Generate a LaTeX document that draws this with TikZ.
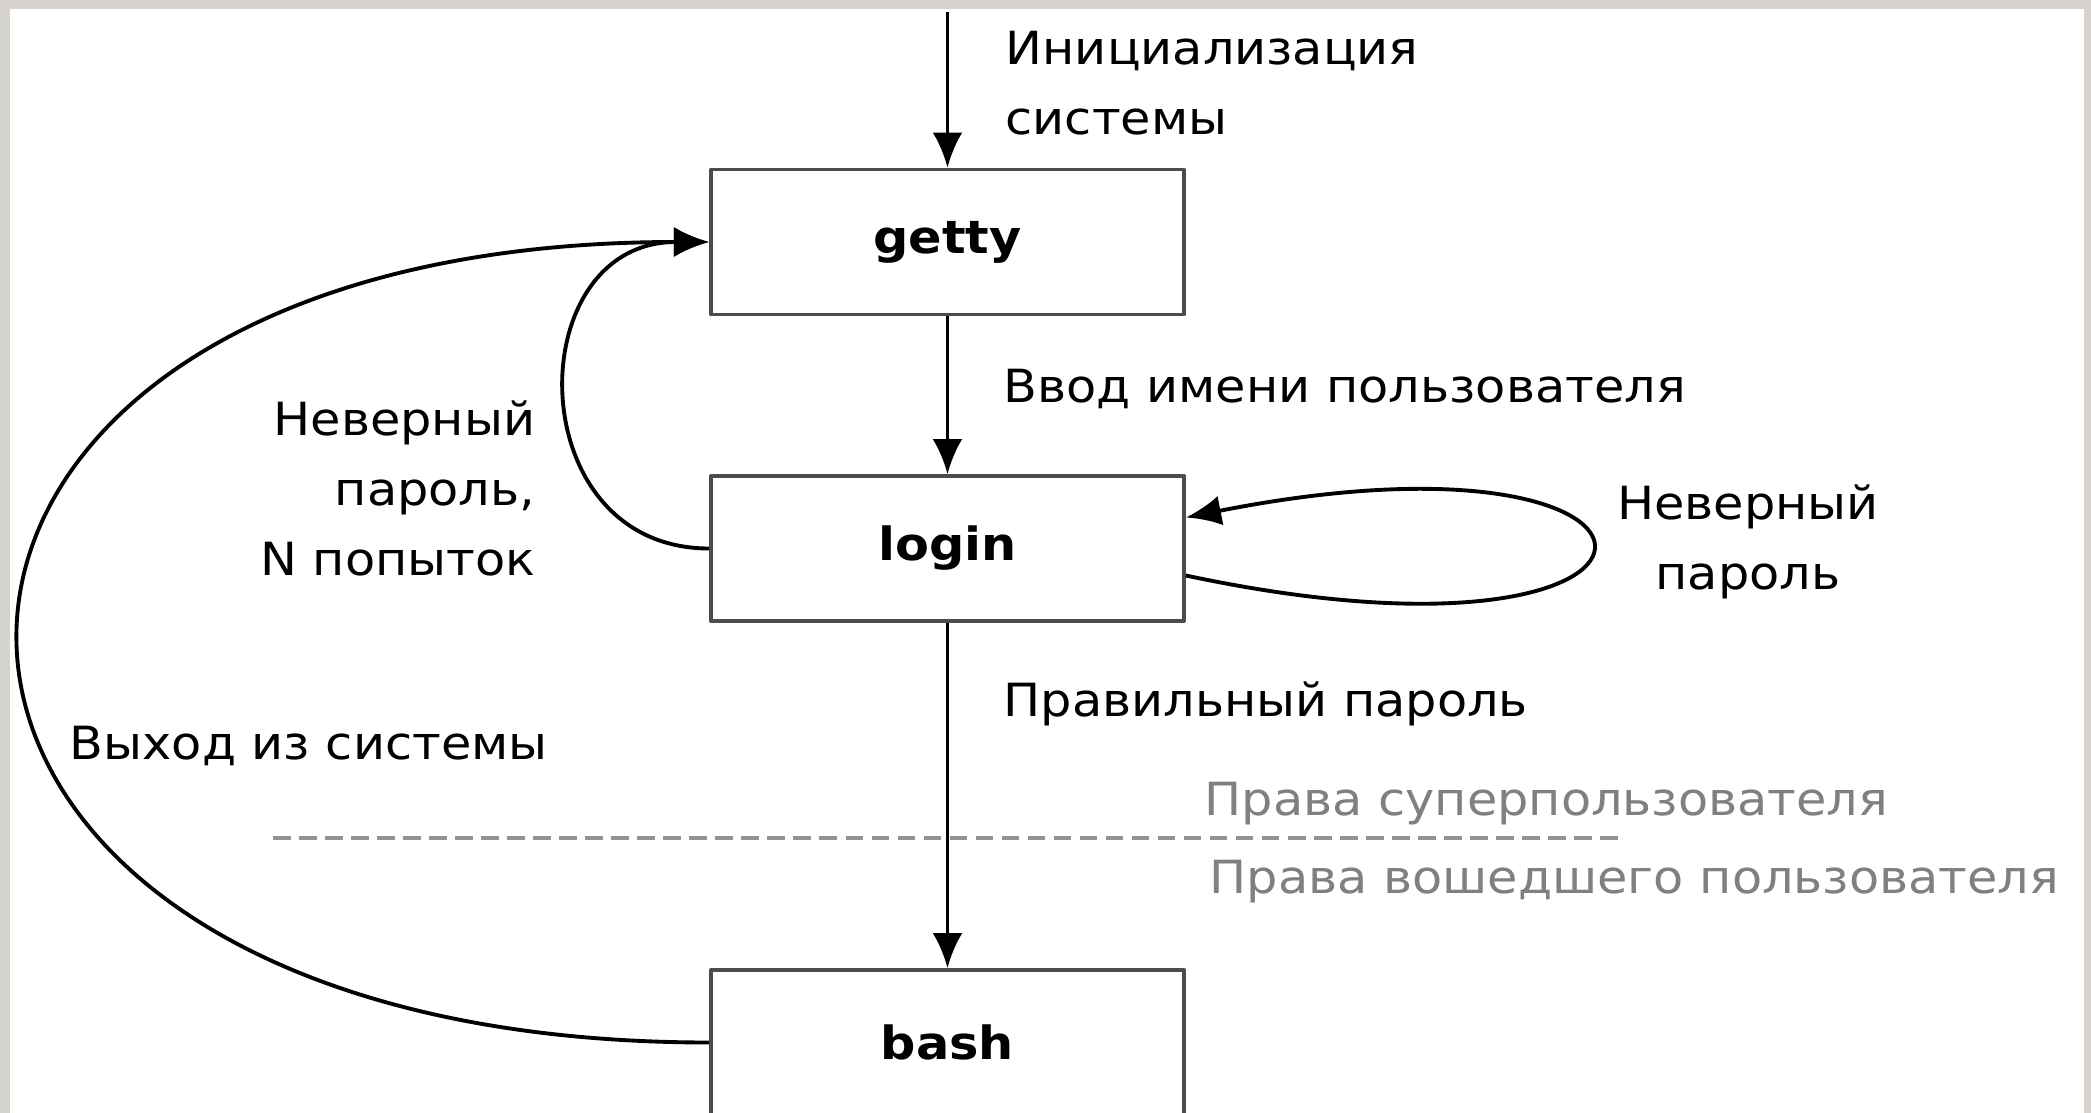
\documentclass[tikz,border=0pt]{standalone}
\usepackage{fontspec}
\setmainfont{DejaVu Sans}[FakeStretch=1.08]
\usetikzlibrary{arrows.meta,positioning,calc}

\definecolor{framegray}{RGB}{214,211,206}
\definecolor{rightsgray}{RGB}{128,128,128}

\begin{document}
\begin{tikzpicture}[
  x=0.01cm,y=-0.01cm,
  line join=round,
  >={Latex[length=10pt,width=8.5pt]},
  proc/.style={draw=black!70,line width=1pt,minimum width=4.73cm,minimum height=1.45cm,inner sep=0pt,font=\bfseries\fontsize{13}{16}\selectfont},
  flow/.style={draw=black,line width=1.1pt,->},
  back/.style={draw=black,line width=1.1pt,->},
  lbl/.style={inner sep=0pt,font=\fontsize{13}{20}\selectfont},
  rights/.style={lbl,text=rightsgray},
  privline/.style={draw=rightsgray!85,line width=1.2pt,dash pattern=on 5pt off 2.4pt}
]

% slide frame
\useasboundingbox (0,0) rectangle (2091,1113);
\fill[framegray] (0,0) rectangle (2091,1113);
\fill[white] (10,9) rectangle (2084,1113);

% processes
\node[proc] (getty) at (947.5,242) {getty};
\node[proc] (login) at (947.5,548.5) {login};
\node[proc] (bash) at (947.5,1042.5) {bash};
\coordinate (init) at (947.5,12);

% privilege boundary
\coordinate (sepL) at (273,838);
\coordinate (sepR) at (1625,838);
\draw[privline] (sepL) -- (sepR);
\node[rights,anchor=base west] (rootlbl) at (1204,815) {Права суперпользователя};
\node[rights,anchor=base west] (userlbl) at (1209,893) {Права вошедшего пользователя};

% main flow
\draw[flow] (init) -- (getty);
\draw[flow] (getty) -- (login);
\draw[flow] (login) -- (bash);

% returns to getty
\draw[back] (login.west) .. controls ($(login.west)+(-190,0)$) and ($(getty.west)+(-190,0)$) .. (getty.west);
\draw[back] (bash.west) .. controls ($(bash.west)+(-918,0)$) and ($(getty.west)+(-918,0)$) .. (getty.west);

% retry on login
\draw[back] ([yshift=-0.27cm]login.east) .. controls ($(login.east)+(540,142)$) and ($(login.east)+(540,-138)$) .. ([yshift=0.31cm]login.east);

% labels (base of a multi-line node is its last line)
\node[lbl,anchor=base west,align=left] (initlbl) at (1005,135) {Инициализация\\системы};
\node[lbl,anchor=base west] (namelbl) at (1003,403) {Ввод имени пользователя};
\node[lbl,anchor=base east,align=right] (failnlbl) at (536,576) {Неверный\\пароль,\\N попыток};
\node[lbl,anchor=base,align=center] (faillbl) at (1748,590) {Неверный\\пароль};
\node[lbl,anchor=base west] (oklbl) at (1003,716) {Правильный пароль};
\node[lbl,anchor=base west] (exitlbl) at (69,759) {Выход из системы};

\end{tikzpicture}
\end{document}
